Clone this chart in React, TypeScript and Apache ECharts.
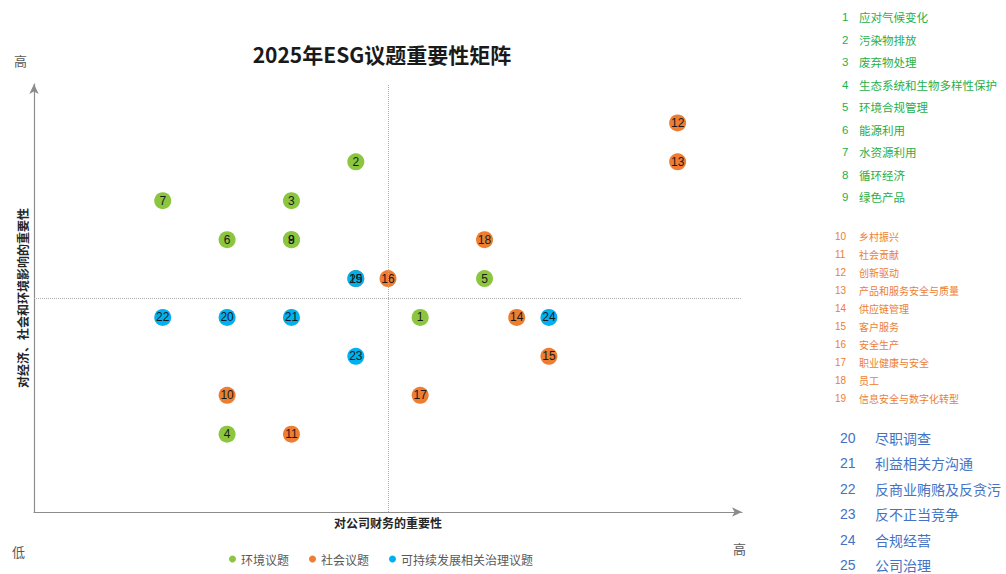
import React, { useEffect, useRef } from "react";
import * as echarts from "echarts";

// [id, x (financial), y (impact)]
const envPoints: [number, number, number][] = [
  [1, 6, 5], [2, 5, 9], [3, 4, 8], [4, 3, 2], [5, 7, 6], [6, 3, 7], [7, 2, 8], [8, 4, 7], [9, 4, 7],
];
const socialPoints: [number, number, number][] = [
  [10, 3, 3], [11, 4, 2], [12, 10, 10], [13, 10, 9], [14, 7.5, 5], [15, 8, 4], [16, 5.5, 6], [17, 6, 3], [18, 7, 7], [19, 5, 6],
];
const govPoints: [number, number, number][] = [
  [20, 3, 5], [21, 4, 5], [22, 2, 5], [23, 5, 4], [24, 8, 5], [25, 5, 6],
];

const seriesNames = ["环境议题", "社会议题", "可持续发展相关治理议题"];
const envNames = ["应对气候变化", "污染物排放", "废弃物处理", "生态系统和生物多样性保护", "环境合规管理", "能源利用", "水资源利用", "循环经济", "绿色产品"];
const socialNames = ["乡村振兴", "社会贡献", "创新驱动", "产品和服务安全与质量", "供应链管理", "客户服务", "安全生产", "职业健康与安全", "员工", "信息安全与数字化转型"];
const govNames = ["尽职调查", "利益相关方沟通", "反商业贿赂及反贪污", "反不正当竞争", "合规经营", "公司治理"];

const title = "2025年ESG议题重要性矩阵";
const xAxisName = "对公司财务的重要性";
const yAxisName = "对经济、社会和环境影响的重要性";
const midLine = 5.5;
const axisMax = 11;

const CJK = "'Noto Sans CJK SC', 'Noto Sans', sans-serif";

export default function App() {
  const ref = useRef<HTMLDivElement>(null);
  useEffect(() => {
    if (!ref.current) return;
    const chart = echarts.init(ref.current, null, { renderer: "svg" });
    const colors = ["#8CC63F", "#ED7D31", "#00B0F0"];

    const mkSeries = (name: string, pts: [number, number, number][], color: string, withMark: boolean) => ({
      name,
      type: "scatter",
      symbolSize: 17,
      itemStyle: { color, opacity: 1 },
      data: pts.map((p) => ({ value: [p[1], p[2]], id: String(p[0]), name: String(p[0]) })),
      label: {
        show: true,
        position: "inside",
        formatter: (p: any) => p.name,
        color: "#1a1a1a",
        fontSize: 12,
        fontFamily: "'Liberation Sans', sans-serif",
      },
      markLine: withMark
        ? {
            silent: true,
            symbol: "none",
            label: { show: false },
            lineStyle: { type: "dotted", color: "#b0b0b0", width: 1 },
            data: [{ xAxis: midLine }, { yAxis: midLine }],
          }
        : undefined,
    });

    const graphics: any[] = [];
    const listStart = [17, 236, 438];
    const listStep = [22.5, 18, 25.4];
    const listSize = [11.5, 10, 14];
    const listColor = ["#1FAF4B", "#ED7D31", "#4472C4"];
    const numX = [842, 835, 840];
    const nameX = [859, 859, 875];
    [envNames, socialNames, govNames].forEach((names, g) => {
      const base = g === 0 ? 1 : g === 1 ? 10 : 20;
      names.forEach((n, i) => {
        const y = listStart[g] + i * listStep[g];
        graphics.push({
          type: "text",
          x: numX[g],
          y,
          style: { text: String(base + i), fill: listColor[g], fontSize: listSize[g], fontFamily: "'Liberation Sans', sans-serif", verticalAlign: "middle" },
        });
        graphics.push({
          type: "text",
          x: nameX[g],
          y,
          style: { text: n, fill: listColor[g], fontSize: listSize[g], fontFamily: CJK, verticalAlign: "middle" },
        });
      });
    });
    graphics.push(
      { type: "text", x: 14, y: 60, style: { text: "高", fill: "#595959", fontSize: 13, fontFamily: CJK, verticalAlign: "middle" } },
      { type: "text", x: 12, y: 551, style: { text: "低", fill: "#595959", fontSize: 13, fontFamily: CJK, verticalAlign: "middle" } },
      { type: "text", x: 733, y: 548, style: { text: "高", fill: "#595959", fontSize: 13, fontFamily: CJK, verticalAlign: "middle" } }
    );

    const axisCommon = {
      type: "value",
      min: 0,
      max: axisMax,
      splitLine: { show: false },
      axisTick: { show: false },
      axisLabel: { show: false },
      nameLocation: "middle",
      nameTextStyle: { color: "#262626", fontSize: 12, fontWeight: "bold", fontFamily: CJK },
      axisLine: {
        show: true,
        symbol: ["none", "arrow"],
        symbolSize: [7, 10],
        symbolOffset: [0, 0],
        lineStyle: { color: "#8c8c8c", width: 1.2 },
      },
    };

    chart.setOption({
      animation: false,
      title: {
        text: title,
        left: 377,
        textAlign: "center",
        top: 38,
        textStyle: { fontSize: 21, fontWeight: "bold", color: "#1a1a1a", fontFamily: CJK },
      },
      grid: { left: 34, right: 264, top: 84, bottom: 62, containLabel: false },
      xAxis: { ...axisCommon, name: xAxisName, nameGap: 4 },
      yAxis: { ...axisCommon, name: yAxisName, nameGap: 6, nameRotate: 90 },
      legend: {
        data: seriesNames,
        left: 224,
        top: 548,
        icon: "circle",
        itemWidth: 7,
        itemHeight: 7,
        itemGap: 20,
        textStyle: { color: "#595959", fontSize: 12, fontFamily: CJK },
      },
      series: [
        mkSeries(seriesNames[0], envPoints, colors[0], true),
        mkSeries(seriesNames[1], socialPoints, colors[1], false),
        mkSeries(seriesNames[2], govPoints, colors[2], false),
      ],
      graphic: graphics,
    });
    return () => chart.dispose();
  }, []);
  return <div ref={ref} style={{ width: 1006, height: 574, position: "absolute", left: 0, top: 0 }} />;
}
